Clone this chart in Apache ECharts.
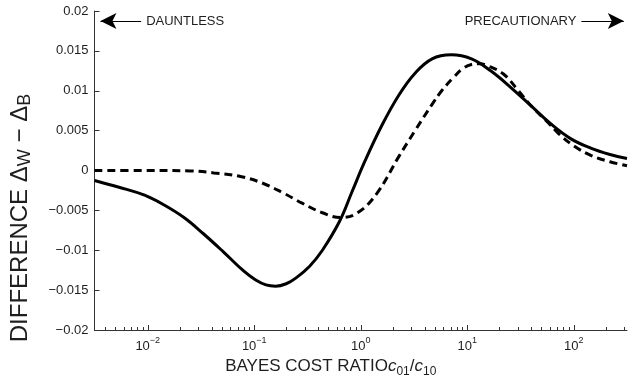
<!DOCTYPE html>
<html>
<head>
<meta charset="utf-8">
<script src="https://cdn.jsdelivr.net/npm/echarts@6/dist/echarts.min.js"></script>
<style>
html, body { margin: 0; padding: 0; background: #fff; }
#chart { width: 635px; height: 385px; }
</style>
</head>
<body>
<div id="chart"></div>
<script>
// x values are log10 of the Bayes cost ratio c01/c10
var solidLogX = [-2.5, -2.27, -2.03, -1.85, -1.66, -1.48, -1.29, -1.10, -0.99, -0.89, -0.80, -0.70, -0.61, -0.48, -0.36, -0.20, -0.08, 0.04, 0.20, 0.36, 0.51, 0.67, 0.85, 1.04, 1.22, 1.41, 1.60, 1.78, 1.97, 2.16, 2.34, 2.5];
var solidY = [-0.00125, -0.0021, -0.0031, -0.0043, -0.0059, -0.0079, -0.0102, -0.0126, -0.0137, -0.01435, -0.0145, -0.0142, -0.0135, -0.0120, -0.0100, -0.0064, -0.0026, 0.0012, 0.0057, 0.0095, 0.0122, 0.0140, 0.0145, 0.0140, 0.0125, 0.0104, 0.0081, 0.0059, 0.0040, 0.0028, 0.0020, 0.0015];

var dashedLogX = [-2.5, -2.03, -1.60, -1.38, -1.13, -0.92, -0.73, -0.55, -0.36, -0.19, -0.03, 0.15, 0.36, 0.51, 0.67, 0.76, 0.88, 0.96, 1.04, 1.12, 1.18, 1.34, 1.48, 1.60, 1.76, 1.86, 2.00, 2.16, 2.34, 2.5];
var dashedY = [0, 0, -0.00006, -0.0003, -0.00075, -0.0016, -0.0028, -0.0041, -0.0053, -0.0059, -0.0053, -0.0029, 0.0018, 0.0050, 0.0083, 0.0100, 0.0118, 0.0128, 0.0133, 0.0134, 0.0132, 0.0121, 0.0100, 0.0081, 0.0060, 0.0046, 0.0031, 0.0019, 0.0011, 0.0006];

var decadeTicks = [-2, -1, 0, 1, 2];
var xMin = -2.5, xMax = 2.5;

var minorTicks = [];
for (var n = -3; n <= 2; n++) {
  for (var k = 2; k <= 9; k++) {
    var v = n + Math.log10(k);
    if (v > xMin && v < xMax) minorTicks.push(v);
  }
}

function pairs(xs, ys) {
  var out = [];
  for (var i = 0; i < xs.length; i++) out.push([xs[i], ys[i]]);
  return out;
}

var textColor = '#1e1e1e';
var font = 'Liberation Sans, Arial, Helvetica, sans-serif';

var chart = echarts.init(document.getElementById('chart'));
var option = {
  animation: false,
  textStyle: { fontFamily: font },
  grid: { left: 90, right: 8, top: 11, bottom: 55 },
  xAxis: [{
    type: 'value',
    min: xMin,
    max: xMax,
    name: 'BAYES COST RATIO{i|c}{s|01}/{i|c}{s|10}',
    nameLocation: 'middle',
    nameGap: 22,
    nameTextStyle: {
      color: textColor, fontSize: 17, fontFamily: font, padding: [0, 60, 0, 0],
      rich: {
        i: { fontSize: 17, fontStyle: 'italic', color: textColor, fontFamily: font },
        s: { fontSize: 12, color: textColor, fontFamily: font, padding: [10, 0, 0, 0] }
      }
    },
    axisLine: { onZero: false, lineStyle: { color: '#333', width: 1 } },
    axisTick: { inside: true, length: 5, customValues: decadeTicks, lineStyle: { color: '#333' } },
    axisLabel: {
      customValues: decadeTicks,
      margin: 6,
      color: textColor,
      fontSize: 13,
      formatter: function (v) {
        return '10{sup|' + String(v).replace('-', '\u2212') + '}';
      },
      rich: {
        sup: { fontSize: 9, color: textColor, fontFamily: font, padding: [0, 0, 12, 0] }
      }
    },
    splitLine: { show: false }
  }, {
    type: 'value',
    min: xMin,
    max: xMax,
    position: 'bottom',
    axisLine: { show: false, onZero: false },
    axisTick: { inside: true, length: 3, customValues: minorTicks, lineStyle: { color: '#333' } },
    axisLabel: { show: false },
    splitLine: { show: false }
  }],
  yAxis: {
    type: 'value',
    min: -0.02,
    max: 0.02,
    interval: 0.005,
    name: 'DIFFERENCE \u0394{s|W} \u2212 \u0394{s|B}',
    nameLocation: 'middle',
    nameRotate: 90,
    nameGap: 60,
    nameTextStyle: {
      color: textColor, fontSize: 24, fontFamily: font, padding: [0, 95, 0, 0],
      rich: {
        s: { fontSize: 18, color: textColor, fontFamily: font, padding: [11, 0, 0, 0] }
      }
    },
    axisLine: { show: true, onZero: false, lineStyle: { color: '#333', width: 1 } },
    axisTick: { show: true, inside: true, length: 5, lineStyle: { color: '#333' } },
    axisLabel: {
      color: textColor,
      fontSize: 13,
      margin: 6,
      formatter: function (v) {
        return String(+v.toFixed(3)).replace('-', '\u2212');
      }
    },
    splitLine: { show: false }
  },
  series: [{
    type: 'line',
    name: 'solid',
    data: pairs(solidLogX, solidY),
    smooth: 0.4,
    symbol: 'none',
    lineStyle: { color: '#000', width: 3 },
    silent: true,
    markLine: {
      silent: true,
      symbolSize: [12, 16],
      lineStyle: { color: '#000', width: 1.2, type: 'solid' },
      label: { color: textColor, fontSize: 13, fontFamily: font, distance: 5 },
      data: [
        [
          { coord: [-2.444, 0.01875], symbol: 'arrow' },
          { coord: [-2.062, 0.01875], symbol: 'none', label: { position: 'end', formatter: 'DAUNTLESS' } }
        ],
        [
          { coord: [2.072, 0.01875], symbol: 'none', label: { position: 'start', formatter: 'PRECAUTIONARY' } },
          { coord: [2.47, 0.01875], symbol: 'arrow' }
        ]
      ]
    }
  }, {
    type: 'line',
    name: 'dashed',
    data: pairs(dashedLogX, dashedY),
    smooth: 0.4,
    symbol: 'none',
    lineStyle: { color: '#000', width: 3, type: [8, 5] },
    silent: true
  }]
};
chart.setOption(option);
</script>
</body>
</html>
